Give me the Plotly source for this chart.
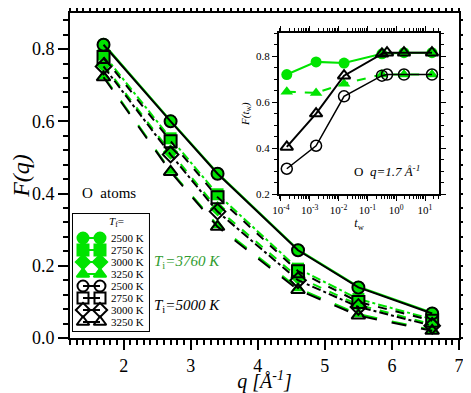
import plotly.graph_objects as go

# main panel: F(q) vs q
q = [1.7, 2.7, 3.4, 4.6, 5.5, 6.6]
temps = ["2500 K", "2750 K", "3000 K", "3250 K"]
green_fq = [
    [0.815, 0.602, 0.457, 0.245, 0.142, 0.070],
    [0.785, 0.553, 0.398, 0.192, 0.108, 0.052],
    [0.757, 0.515, 0.358, 0.168, 0.092, 0.038],
    [0.725, 0.463, 0.312, 0.138, 0.066, 0.022],
]
black_fq = [
    [0.812, 0.600, 0.455, 0.243, 0.140, 0.068],
    [0.778, 0.545, 0.390, 0.185, 0.100, 0.048],
    [0.752, 0.508, 0.350, 0.160, 0.086, 0.034],
    [0.722, 0.460, 0.308, 0.133, 0.062, 0.020],
]

# inset: F(t_w) at q=1.7
tw_green = [1.6e-4, 1.66e-3, 1.55e-2, 0.32, 1.86, 17.4]
green_circ = [0.72, 0.775, 0.77, 0.81, 0.815, 0.815]
green_tri = [0.645, 0.64, 0.68, 0.72, 0.72, 0.72]
tw_black = [1.6e-4, 1.66e-3, 1.55e-2, 0.32, 0.48, 1.86, 17.4]
black_circ = [0.31, 0.41, 0.625, 0.715, 0.72, 0.72, 0.72]
black_tri = [0.405, 0.55, 0.715, 0.81, 0.815, 0.815, 0.815]

inset_tickvals = [1e-4, 1e-3, 1e-2, 1e-1, 1, 10]
inset_ticktext = ["10<sup>-4</sup>", "10<sup>-3</sup>", "10<sup>-2</sup>",
                  "10<sup>-1</sup>", "10<sup>0</sup>", "10<sup>1</sup>"]

GREEN = "#00E400"
SERIF = "Liberation Serif"

g_sym = ["circle", "square", "diamond", "triangle-up"]
b_sym = ["circle-open", "square-open", "diamond-open", "triangle-up-open"]
g_dash = ["solid", "dashdot", "dash", "longdash"]
b_dash = ["solid", "dash", "dashdot", "longdash"]

fig = go.Figure()

for i, t in enumerate(temps):
    fig.add_trace(go.Scatter(
        x=q, y=green_fq[i], mode="lines+markers", name=t, showlegend=False,
        line=dict(color=GREEN, width=2, dash=g_dash[i]),
        marker=dict(symbol=g_sym[i], size=12, color=GREEN),
    ))
for i, t in enumerate(temps):
    fig.add_trace(go.Scatter(
        x=q, y=black_fq[i], mode="lines+markers", name=t, showlegend=False,
        line=dict(color="black", width=2, dash=b_dash[i]),
        marker=dict(symbol=b_sym[i], size=12, color="black",
                    line=dict(width=2, color="black")),
    ))

# inset traces
fig.add_trace(go.Scatter(
    x=tw_green, y=green_circ, xaxis="x2", yaxis="y2", mode="lines+markers",
    showlegend=False, line=dict(color=GREEN, width=2),
    marker=dict(symbol="circle", size=11, color=GREEN)))
fig.add_trace(go.Scatter(
    x=tw_green, y=green_tri, xaxis="x2", yaxis="y2", mode="lines+markers",
    showlegend=False, line=dict(color=GREEN, width=2, dash="dash"),
    marker=dict(symbol="triangle-up", size=11, color=GREEN)))
fig.add_trace(go.Scatter(
    x=tw_black, y=black_circ, xaxis="x2", yaxis="y2", mode="lines+markers",
    showlegend=False, line=dict(color="black", width=1.5),
    marker=dict(symbol="circle-open", size=11, color="black",
                line=dict(width=1.5, color="black"))))
fig.add_trace(go.Scatter(
    x=tw_black, y=black_tri, xaxis="x2", yaxis="y2", mode="lines+markers",
    showlegend=False, line=dict(color="black", width=2),
    marker=dict(symbol="triangle-up-open", size=11, color="black",
                line=dict(width=2, color="black"))))

# hand-made compact legend (rows of two markers joined by a line) on a hidden axis
legend_rows = [(GREEN, s, t) for s, t in zip(g_sym, temps)] + \
              [("black", s, t) for s, t in zip(b_sym, temps)]
for r, (col, sym, t) in enumerate(legend_rows):
    fig.add_trace(go.Scatter(
        x=[10, 27], y=[r, r], xaxis="x3", yaxis="y3", mode="lines+markers",
        showlegend=False, hoverinfo="skip",
        line=dict(color=col, width=2),
        marker=dict(symbol=sym, size=11, color=col, line=dict(width=2, color=col)),
    ))
    fig.add_annotation(text=t, xref="x3", yref="y3", x=36, y=r, xanchor="left",
                       yanchor="middle", showarrow=False,
                       font=dict(size=11, family=SERIF))
fig.add_annotation(text="<i>T</i><sub>f</sub>=", xref="x3", yref="y3", x=44, y=-1.3,
                   xanchor="center", yanchor="middle", showarrow=False,
                   font=dict(size=11, family=SERIF))
fig.add_shape(type="rect", xref="paper", yref="paper", x0=0.0077, x1=0.203,
              y0=0.0215, y1=0.3815, line=dict(color="black", width=2), layer="below")

ax_common = dict(showgrid=False, zeroline=False, showline=True, linecolor="black",
                 linewidth=2, mirror="allticks", ticks="outside", tickcolor="black",
                 automargin=False)

# the page puts the figure 8px in from the top-left corner, so size it to fit
fig.update_layout(
    width=463, height=385,
    margin=dict(l=62, r=12, t=5, b=55),
    plot_bgcolor="white", paper_bgcolor="white",
    font=dict(family=SERIF, color="black"),
    showlegend=False,
    xaxis=dict(**ax_common, range=[1.2, 7.0], dtick=1, ticklen=10, tickwidth=1.5,
               tickfont=dict(size=18),
               minor=dict(dtick=0.1, ticklen=5, ticks="outside", tickcolor="black"),
               title=dict(text="<i>q [Å<sup>-1</sup>]</i>", font=dict(size=20), standoff=6)),
    yaxis=dict(**ax_common, range=[0, 0.9], dtick=0.2, tickformat=".1f", ticklen=10,
               tickwidth=1.5, tickfont=dict(size=18),
               minor=dict(dtick=0.04, ticklen=5, ticks="outside", tickcolor="black"),
               title=dict(text="<i>F(q)</i>", font=dict(size=24), standoff=4)),
    xaxis2=dict(**ax_common, type="log", domain=[0.537, 0.949], anchor="y2",
                range=[-4.07, 1.49], tickvals=inset_tickvals, ticktext=inset_ticktext,
                ticklen=5, tickfont=dict(size=11),
                minor=dict(ticks="outside", ticklen=3, tickcolor="black", dtick="D1"),
                title=dict(text="<i>t</i><sub>w</sub>", font=dict(size=12), standoff=2)),
    yaxis2=dict(**ax_common, domain=[0.443, 0.938], anchor="x2", range=[0.2, 0.9],
                dtick=0.2, tickformat=".1f", ticklen=5, tickfont=dict(size=11),
                minor=dict(dtick=0.05, ticklen=3, ticks="outside", tickcolor="black"),
                title=dict(text="<i>F(t</i><sub>w</sub><i>)</i>", font=dict(size=11), standoff=4)),
    xaxis3=dict(domain=[0.0077, 0.203], anchor="y3", range=[0, 76], visible=False,
                fixedrange=True),
    yaxis3=dict(domain=[0.0215, 0.3815], anchor="x3", range=[7.75, -2], visible=False,
                fixedrange=True),
)

fig.add_annotation(text="O  atoms", xref="paper", yref="paper", x=0.026, y=0.446,
                   xanchor="left", yanchor="middle", showarrow=False,
                   font=dict(size=15, family=SERIF))
fig.add_annotation(text="<i>T</i><sub>i</sub><i>=3760 K</i>", xref="paper", yref="paper",
                   x=0.211, y=0.234, xanchor="left", yanchor="middle", showarrow=False,
                   font=dict(size=15, family=SERIF, color="#2E9B2E"))
fig.add_annotation(text="<i>T</i><sub>i</sub><i>=5000 K</i>", xref="paper", yref="paper",
                   x=0.211, y=0.098, xanchor="left", yanchor="middle", showarrow=False,
                   font=dict(size=15, family=SERIF))
fig.add_annotation(text="O  <i>q=1.7 Å<sup>-1</sup></i>", xref="paper", yref="paper",
                   x=0.725, y=0.514, xanchor="left", yanchor="middle", showarrow=False,
                   font=dict(size=13, family=SERIF))

fig.write_html("out.html")
